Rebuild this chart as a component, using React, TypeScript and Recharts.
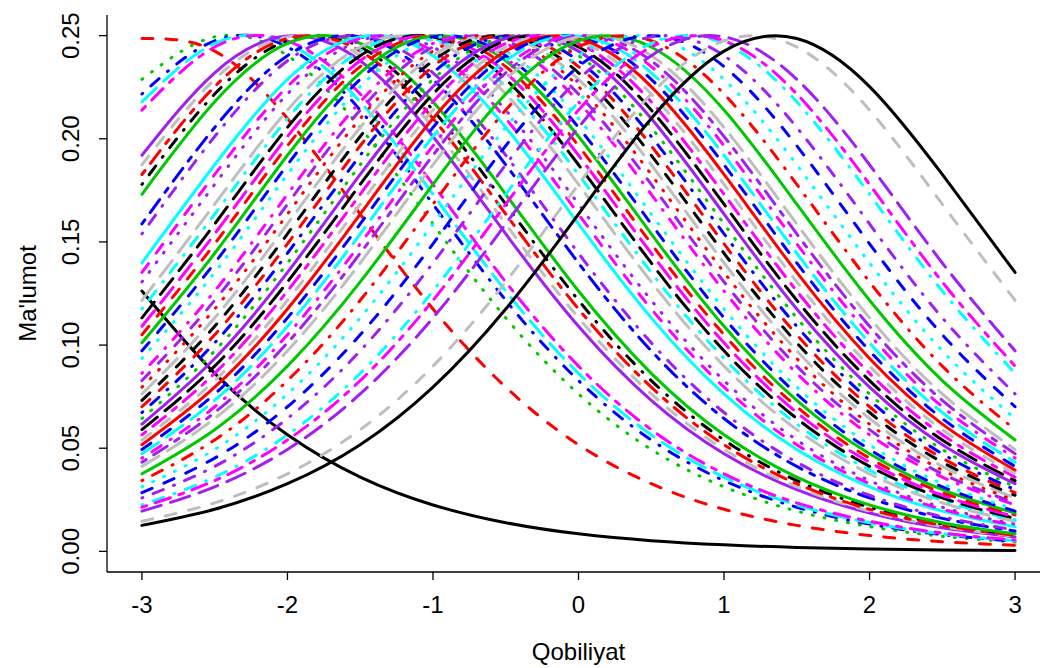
import { LineChart, Line, XAxis, YAxis } from "recharts";

const FONT = '"Liberation Sans", Arial, sans-serif';
const FS = 24;

// ability grid
const theta = [-3, -2.5, -2, -1.5, -1, -0.5, 0, 0.5, 1, 1.5, 2, 2.5, 3];

// item information (one array per item)
const i01 = [0.1262, 0.0863, 0.0565, 0.036, 0.0225, 0.0139, 0.0085, 0.0052, 0.0032, 0.0019, 0.0012, 0.0007, 0.0004];
const i02 = [0.2486, 0.2425, 0.2098, 0.1635, 0.1175, 0.0796, 0.0517, 0.0328, 0.0204, 0.0126, 0.0077, 0.0047, 0.0029];
const i03 = [0.2288, 0.2494, 0.2403, 0.2055, 0.1587, 0.1132, 0.0763, 0.0494, 0.0313, 0.0195, 0.012, 0.0073, 0.0045];
const i04 = [0.2217, 0.2475, 0.2445, 0.2139, 0.1683, 0.1217, 0.0828, 0.054, 0.0343, 0.0214, 0.0132, 0.0081, 0.0049];
const i05 = [0.2179, 0.2462, 0.2462, 0.2179, 0.1731, 0.1262, 0.0863, 0.0565, 0.036, 0.0225, 0.0139, 0.0085, 0.0052];
const i06 = [0.2139, 0.2445, 0.2475, 0.2217, 0.1779, 0.1306, 0.0898, 0.059, 0.0376, 0.0235, 0.0146, 0.0089, 0.0055];
const i07 = [0.192, 0.232, 0.2498, 0.2378, 0.2011, 0.1539, 0.1091, 0.0732, 0.0473, 0.0299, 0.0186, 0.0114, 0.007];
const i08 = [0.1874, 0.2288, 0.2494, 0.2403, 0.2055, 0.1587, 0.1132, 0.0763, 0.0494, 0.0313, 0.0195, 0.012, 0.0073];
const i09 = [0.1779, 0.2217, 0.2475, 0.2445, 0.2139, 0.1683, 0.1217, 0.0828, 0.054, 0.0343, 0.0214, 0.0132, 0.0081];
const i10 = [0.1827, 0.2253, 0.2486, 0.2425, 0.2098, 0.1635, 0.1175, 0.0796, 0.0517, 0.0328, 0.0204, 0.0126, 0.0077];
const i11 = [0.1731, 0.2179, 0.2462, 0.2462, 0.2179, 0.1731, 0.1262, 0.0863, 0.0565, 0.036, 0.0225, 0.0139, 0.0085];
const i12 = [0.1587, 0.2055, 0.2403, 0.2494, 0.2288, 0.1874, 0.1398, 0.0972, 0.0644, 0.0412, 0.0259, 0.016, 0.0099];
const i13 = [0.1539, 0.2011, 0.2378, 0.2498, 0.232, 0.192, 0.1445, 0.1011, 0.0673, 0.0432, 0.0272, 0.0168, 0.0104];
const i14 = [0.1398, 0.1874, 0.2288, 0.2494, 0.2403, 0.2055, 0.1587, 0.1132, 0.0763, 0.0494, 0.0313, 0.0195, 0.012];
const i15 = [0.1352, 0.1827, 0.2253, 0.2486, 0.2425, 0.2098, 0.1635, 0.1175, 0.0796, 0.0517, 0.0328, 0.0204, 0.0126];
const i16 = [0.1306, 0.1779, 0.2217, 0.2475, 0.2445, 0.2139, 0.1683, 0.1217, 0.0828, 0.054, 0.0343, 0.0214, 0.0132];
const i17 = [0.1217, 0.1683, 0.2139, 0.2445, 0.2475, 0.2217, 0.1779, 0.1306, 0.0898, 0.059, 0.0376, 0.0235, 0.0146];
const i18 = [0.1175, 0.1635, 0.2098, 0.2425, 0.2486, 0.2253, 0.1827, 0.1352, 0.0935, 0.0617, 0.0394, 0.0247, 0.0153];
const i19 = [0.1132, 0.1587, 0.2055, 0.2403, 0.2494, 0.2288, 0.1874, 0.1398, 0.0972, 0.0644, 0.0412, 0.0259, 0.016];
const i20 = [0.1091, 0.1539, 0.2011, 0.2378, 0.2498, 0.232, 0.192, 0.1445, 0.1011, 0.0673, 0.0432, 0.0272, 0.0168];
const i21 = [0.105, 0.1491, 0.1966, 0.235, 0.25, 0.235, 0.1966, 0.1491, 0.105, 0.0701, 0.0452, 0.0285, 0.0177];
const i22 = [0.1011, 0.1445, 0.192, 0.232, 0.2498, 0.2378, 0.2011, 0.1539, 0.1091, 0.0732, 0.0473, 0.0299, 0.0186];
const i23 = [0.0972, 0.1398, 0.1874, 0.2288, 0.2494, 0.2403, 0.2055, 0.1587, 0.1132, 0.0763, 0.0494, 0.0313, 0.0195];
const i24 = [0.0935, 0.1352, 0.1827, 0.2253, 0.2486, 0.2425, 0.2098, 0.1635, 0.1175, 0.0796, 0.0517, 0.0328, 0.0204];
const i25 = [0.0863, 0.1262, 0.1731, 0.2179, 0.2462, 0.2462, 0.2179, 0.1731, 0.1262, 0.0863, 0.0565, 0.036, 0.0225];
const i26 = [0.0828, 0.1217, 0.1683, 0.2139, 0.2445, 0.2475, 0.2217, 0.1779, 0.1306, 0.0898, 0.059, 0.0376, 0.0235];
const i27 = [0.0763, 0.1132, 0.1587, 0.2055, 0.2403, 0.2494, 0.2288, 0.1874, 0.1398, 0.0972, 0.0644, 0.0412, 0.0259];
const i28 = [0.0796, 0.1175, 0.1635, 0.2098, 0.2425, 0.2486, 0.2253, 0.1827, 0.1352, 0.0935, 0.0617, 0.0394, 0.0247];
const i29 = [0.0732, 0.1091, 0.1539, 0.2011, 0.2378, 0.2498, 0.232, 0.192, 0.1445, 0.1011, 0.0673, 0.0432, 0.0272];
const i30 = [0.0701, 0.105, 0.1491, 0.1966, 0.235, 0.25, 0.235, 0.1966, 0.1491, 0.105, 0.0701, 0.0452, 0.0285];
const i31 = [0.0673, 0.1011, 0.1445, 0.192, 0.232, 0.2498, 0.2378, 0.2011, 0.1539, 0.1091, 0.0732, 0.0473, 0.0299];
const i32 = [0.0644, 0.0972, 0.1398, 0.1874, 0.2288, 0.2494, 0.2403, 0.2055, 0.1587, 0.1132, 0.0763, 0.0494, 0.0313];
const i33 = [0.0617, 0.0935, 0.1352, 0.1827, 0.2253, 0.2486, 0.2425, 0.2098, 0.1635, 0.1175, 0.0796, 0.0517, 0.0328];
const i34 = [0.059, 0.0898, 0.1306, 0.1779, 0.2217, 0.2475, 0.2445, 0.2139, 0.1683, 0.1217, 0.0828, 0.054, 0.0343];
const i35 = [0.0565, 0.0863, 0.1262, 0.1731, 0.2179, 0.2462, 0.2462, 0.2179, 0.1731, 0.1262, 0.0863, 0.0565, 0.036];
const i36 = [0.054, 0.0828, 0.1217, 0.1683, 0.2139, 0.2445, 0.2475, 0.2217, 0.1779, 0.1306, 0.0898, 0.059, 0.0376];
const i37 = [0.0517, 0.0796, 0.1175, 0.1635, 0.2098, 0.2425, 0.2486, 0.2253, 0.1827, 0.1352, 0.0935, 0.0617, 0.0394];
const i38 = [0.0494, 0.0763, 0.1132, 0.1587, 0.2055, 0.2403, 0.2494, 0.2288, 0.1874, 0.1398, 0.0972, 0.0644, 0.0412];
const i39 = [0.0473, 0.0732, 0.1091, 0.1539, 0.2011, 0.2378, 0.2498, 0.232, 0.192, 0.1445, 0.1011, 0.0673, 0.0432];
const i40 = [0.0452, 0.0701, 0.105, 0.1491, 0.1966, 0.235, 0.25, 0.235, 0.1966, 0.1491, 0.105, 0.0701, 0.0452];
const i41 = [0.0432, 0.0673, 0.1011, 0.1445, 0.192, 0.232, 0.2498, 0.2378, 0.2011, 0.1539, 0.1091, 0.0732, 0.0473];
const i42 = [0.0412, 0.0644, 0.0972, 0.1398, 0.1874, 0.2288, 0.2494, 0.2403, 0.2055, 0.1587, 0.1132, 0.0763, 0.0494];
const i43 = [0.0376, 0.059, 0.0898, 0.1306, 0.1779, 0.2217, 0.2475, 0.2445, 0.2139, 0.1683, 0.1217, 0.0828, 0.054];
const i44 = [0.0343, 0.054, 0.0828, 0.1217, 0.1683, 0.2139, 0.2445, 0.2475, 0.2217, 0.1779, 0.1306, 0.0898, 0.059];
const i45 = [0.0313, 0.0494, 0.0763, 0.1132, 0.1587, 0.2055, 0.2403, 0.2494, 0.2288, 0.1874, 0.1398, 0.0972, 0.0644];
const i46 = [0.0285, 0.0452, 0.0701, 0.105, 0.1491, 0.1966, 0.235, 0.25, 0.235, 0.1966, 0.1491, 0.105, 0.0701];
const i47 = [0.0259, 0.0412, 0.0644, 0.0972, 0.1398, 0.1874, 0.2288, 0.2494, 0.2403, 0.2055, 0.1587, 0.1132, 0.0763];
const i48 = [0.0225, 0.036, 0.0565, 0.0863, 0.1262, 0.1731, 0.2179, 0.2462, 0.2462, 0.2179, 0.1731, 0.1262, 0.0863];
const i49 = [0.0214, 0.0343, 0.054, 0.0828, 0.1217, 0.1683, 0.2139, 0.2445, 0.2475, 0.2217, 0.1779, 0.1306, 0.0898];
const i50 = [0.0195, 0.0313, 0.0494, 0.0763, 0.1132, 0.1587, 0.2055, 0.2403, 0.2494, 0.2288, 0.1874, 0.1398, 0.0972];
const i51 = [0.0146, 0.0235, 0.0376, 0.059, 0.0898, 0.1306, 0.1779, 0.2217, 0.2475, 0.2445, 0.2139, 0.1683, 0.1217];
const i52 = [0.0126, 0.0204, 0.0328, 0.0517, 0.0796, 0.1175, 0.1635, 0.2098, 0.2425, 0.2486, 0.2253, 0.1827, 0.1352];

const infoSeries = [
  i01, i02, i03, i04, i05, i06, i07, i08, i09, i10, i11, i12, i13,
  i14, i15, i16, i17, i18, i19, i20, i21, i22, i23, i24, i25, i26,
  i27, i28, i29, i30, i31, i32, i33, i34, i35, i36, i37, i38, i39,
  i40, i41, i42, i43, i44, i45, i46, i47, i48, i49, i50, i51, i52,
];

const xTicks = [-3, -2, -1, 0, 1, 2, 3];
const yTicks = [0, 0.05, 0.1, 0.15, 0.2, 0.25];

// styling, one entry per item
const COLORS: Record<string, string> = {
  k: "#000000", r: "#FF0000", g: "#00C800", b: "#0000FF",
  c: "#00FFFF", m: "#FF00FF", y: "#BEBEBE", p: "#A020F0",
};
const DASH: Record<string, string | undefined> = {
  solid: undefined,
  dashed: "11 13",
  dotted: "1 11",
  dotdash: "1 11 11 11",
  longdash: "20 10",
  twodash: "5 9 16 9",
};
const itemColor = [
  "k", "r", "g", "b", "c", "m", "p", "y", "k", "r", "g", "b", "p",
  "c", "m", "p", "y", "c", "k", "m", "r", "g", "b", "c", "m", "p",
  "y", "r", "k", "r", "b", "g", "p", "k", "m", "y", "r", "b", "c",
  "m", "p", "y", "g", "r", "c", "b", "p", "c", "m", "p", "y", "k",
];
const itemLty = [
  "solid", "dashed", "dotted", "dotdash", "longdash", "twodash", "solid", "dashed", "dotdash", "twodash", "solid", "twodash", "dotdash",
  "solid", "dashed", "dotted", "longdash", "dotdash", "longdash", "longdash", "dashed", "solid", "dashed", "dotted", "dotdash", "dashed",
  "longdash", "dotted", "dashed", "dashed", "dotdash", "dotted", "solid", "longdash", "twodash", "dashed", "solid", "dashed", "longdash",
  "dotdash", "twodash", "longdash", "solid", "dotdash", "dotted", "dashed", "dotdash", "dotdash", "twodash", "longdash", "dashed", "solid",
];

const seriesData = infoSeries.map((vals) =>
  theta.map((x, k) => ({ x, y: vals[k] }))
);

const YTick = (props: any) => {
  const { x, y, payload } = props;
  return (
    <text
      x={x}
      y={y}
      transform={`rotate(-90 ${x} ${y})`}
      textAnchor="middle"
      fontSize={FS}
      fontFamily={FONT}
      fill="#000"
    >
      {Number(payload.value).toFixed(2)}
    </text>
  );
};

export default function App() {
  return (
    <div
      style={{
        position: "absolute",
        left: 0,
        top: 0,
        width: 1040,
        height: 668,
        overflow: "hidden",
        background: "#fff",
      }}
    >
      <LineChart
        width={1060}
        height={668}
        margin={{ top: 15, right: 10, bottom: 0, left: 0 }}
      >
        <XAxis
          xAxisId="x"
          type="number"
          dataKey="x"
          domain={[-3.24, 3.24]}
          ticks={xTicks}
          allowDataOverflow
          height={96}
          tickSize={8}
          tickMargin={16}
          tickFormatter={(v) => String(v)}
          axisLine={{ stroke: "#000", strokeWidth: 1.3 }}
          tickLine={{ stroke: "#000", strokeWidth: 1.3 }}
          tick={{ fill: "#000", fontSize: FS, fontFamily: FONT }}
        />
        <XAxis
          xAxisId="top"
          orientation="top"
          type="number"
          domain={[-3.24, 3.24]}
          height={0}
          tick={false}
          tickLine={false}
          axisLine={{ stroke: "#000", strokeWidth: 1.3 }}
        />
        <YAxis
          yAxisId="y"
          type="number"
          domain={[-0.01, 0.26]}
          ticks={yTicks}
          allowDataOverflow
          width={107}
          tickSize={8}
          tickMargin={20}
          axisLine={{ stroke: "#000", strokeWidth: 1.3 }}
          tickLine={{ stroke: "#000", strokeWidth: 1.3 }}
          tick={<YTick />}
        />
        <YAxis
          yAxisId="right"
          orientation="right"
          type="number"
          domain={[-0.01, 0.26]}
          width={0}
          tick={false}
          tickLine={false}
          axisLine={{ stroke: "#000", strokeWidth: 1.3 }}
        />
        {seriesData.map((d, i) => (
          <Line
            key={i}
            data={d}
            dataKey="y"
            xAxisId="x"
            yAxisId="y"
            type="natural"
            stroke={COLORS[itemColor[i]]}
            strokeWidth={3}
            strokeDasharray={DASH[itemLty[i]]}
            strokeLinecap="round"
            dot={false}
            activeDot={false}
            isAnimationActive={false}
          />
        ))}
      </LineChart>
      <svg
        width={1040}
        height={668}
        style={{ position: "absolute", left: 0, top: 0, pointerEvents: "none" }}
      >
        <text
          x={578.5}
          y={660}
          textAnchor="middle"
          fontSize={FS}
          fontFamily={FONT}
          fill="#000"
        >
          Qobiliyat
        </text>
        <text
          x={36}
          y={293.5}
          transform="rotate(-90 36 293.5)"
          textAnchor="middle"
          fontSize={FS}
          fontFamily={FONT}
          fill="#000"
        >
          Ma'lumot
        </text>
      </svg>
    </div>
  );
}
